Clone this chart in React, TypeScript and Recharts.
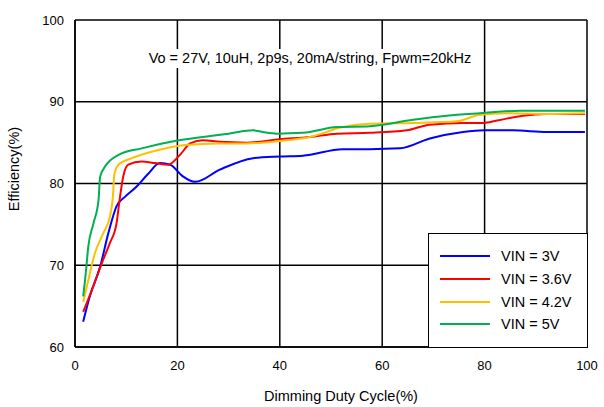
import React from "react";
import {
  CartesianGrid,
  Line,
  LineChart,
  XAxis,
  YAxis,
} from "recharts";

const xTicks = [0, 20, 40, 60, 80, 100];
const yTicks = [60, 70, 80, 90, 100];

const vin3X = [1.6, 2.9, 4.9, 6.5, 8.1, 9.8, 12, 14.3, 16.6, 18.6, 21, 23.5, 28.3, 34.8, 40, 44.5, 52.3, 57.6, 63.5, 69.3, 75.8, 80, 85.5, 92.2, 99.6];
const vin3Y = [63.1, 66.2, 69.8, 73.9, 77.2, 78.4, 79.6, 81.2, 82.5, 82.3, 80.9, 80.2, 81.7, 83.1, 83.3, 83.4, 84.2, 84.2, 84.3, 85.5, 86.3, 86.5, 86.5, 86.3, 86.3];

const vin36X = [1.6, 3.3, 5.2, 6.8, 8.1, 8.8, 9.4, 10.4, 13, 15.6, 18.2, 20.5, 22.5, 25, 28.3, 33.5, 40, 45.9, 51.2, 57.6, 64.8, 69.3, 75.8, 79.7, 82.4, 87.5, 92.2, 99.6];
const vin36Y = [64.3, 67, 70.2, 72.7, 75.1, 78.4, 80.8, 82.3, 82.7, 82.5, 82.3, 83.5, 84.9, 85.3, 85.1, 85.0, 85.4, 85.7, 86.1, 86.2, 86.5, 87.2, 87.4, 87.4, 87.7, 88.3, 88.5, 88.5];

const vin42X = [1.6, 2.6, 3.9, 5.5, 6.8, 7.4, 7.7, 8.5, 11.1, 16.3, 21.5, 28, 33.5, 40, 45.9, 52.3, 57.6, 66, 74.6, 79.1, 84.4, 92.2, 99.6];
const vin42Y = [65.5, 68.2, 71.5, 73.9, 75.9, 78.4, 81.2, 82.3, 83.1, 84.1, 84.7, 84.9, 84.9, 85.2, 85.7, 86.9, 87.3, 87.4, 87.6, 88.4, 88.6, 88.5, 88.6];

const vin5X = [1.6, 2.1, 2.6, 3.6, 4.6, 4.9, 5.9, 8.5, 13, 19.5, 25, 30, 34.8, 36.7, 39.4, 44.5, 51.2, 57.6, 66, 72.6, 79.1, 86.9, 93.4, 99.6];
const vin5Y = [66.2, 69, 72.3, 75.1, 78, 80.8, 82.1, 83.5, 84.3, 85.2, 85.7, 86.1, 86.5, 86.3, 86.1, 86.2, 86.9, 87.0, 87.8, 88.3, 88.6, 88.9, 88.9, 88.9];

const seriesNames = ["VIN = 3V", "VIN = 3.6V", "VIN = 4.2V", "VIN = 5V"];
const seriesColors = ["#0000ff", "#ff0000", "#ffc000", "#00b050"];

const toPoints = (xs: number[], ys: number[]) =>
  xs.map((x, i) => ({ x, eff: ys[i] }));

const series = [
  toPoints(vin3X, vin3Y),
  toPoints(vin36X, vin36Y),
  toPoints(vin42X, vin42Y),
  toPoints(vin5X, vin5Y),
];

const FONT = "'Liberation Sans', Arial, sans-serif";
const LABEL_SIZE = 14.5;

function LegendBox() {
  return (
    <div
      style={{
        position: "absolute",
        left: 428,
        top: 233,
        width: 160,
        height: 115,
        boxSizing: "border-box",
        border: "1.5px solid #000",
        background: "#fff",
        paddingTop: 11,
        fontSize: LABEL_SIZE,
        color: "#000",
      }}
    >
      {seriesNames.map((name, i) => (
        <div
          key={name}
          style={{ display: "flex", alignItems: "center", height: 22.7 }}
        >
          <div
            style={{
              width: 50,
              height: 2,
              marginLeft: 11,
              marginRight: 11,
              background: seriesColors[i],
            }}
          />
          <span>{name}</span>
        </div>
      ))}
    </div>
  );
}

export default function App() {
  return (
    <div
      style={{
        position: "absolute",
        left: 0,
        top: 0,
        width: 604,
        height: 407,
        background: "#fff",
        fontFamily: FONT,
      }}
    >
      <LineChart
        width={604}
        height={407}
        margin={{ top: 20, right: 17, left: 0, bottom: 0 }}
      >
        <CartesianGrid stroke="#000" strokeWidth={1.5} />
        <XAxis
          type="number"
          dataKey="x"
          domain={[0, 100]}
          ticks={xTicks}
          height={60}
          tickLine={false}
          tickMargin={8}
          axisLine={{ stroke: "#000", strokeWidth: 1.5 }}
          tick={{ fontSize: 13, fill: "#000", fontFamily: FONT }}
          label={{
            value: "Dimming Duty Cycle(%)",
            position: "insideBottom",
            offset: 6,
            dx: 10,
            style: { fontSize: LABEL_SIZE, fill: "#000", fontFamily: FONT },
          }}
          allowDuplicatedCategory={false}
        />
        <YAxis
          type="number"
          domain={[60, 100]}
          ticks={yTicks}
          width={75}
          tickLine={false}
          tickMargin={5}
          axisLine={{ stroke: "#000", strokeWidth: 1.5 }}
          tick={{ fontSize: 13, fill: "#000", fontFamily: FONT }}
        />
        {series.map((data, i) => (
          <Line
            key={seriesNames[i]}
            data={data}
            dataKey="eff"
            name={seriesNames[i]}
            type="monotone"
            stroke={seriesColors[i]}
            strokeWidth={2}
            dot={false}
            isAnimationActive={false}
          />
        ))}
      </LineChart>
      <div
        style={{
          position: "absolute",
          left: 140,
          top: 49,
          width: 340,
          height: 19,
          background: "#fff",
          fontSize: LABEL_SIZE,
          lineHeight: "19px",
          textAlign: "center",
          color: "#000",
        }}
      >
        Vo = 27V, 10uH, 2p9s, 20mA/string, Fpwm=20kHz
      </div>
      <div
        style={{
          position: "absolute",
          left: 14,
          top: 169,
          fontSize: LABEL_SIZE,
          color: "#000",
          whiteSpace: "nowrap",
          transform: "translate(-50%, -50%) rotate(-90deg)",
        }}
      >
        Efficiency(%)
      </div>
      <LegendBox />
    </div>
  );
}
